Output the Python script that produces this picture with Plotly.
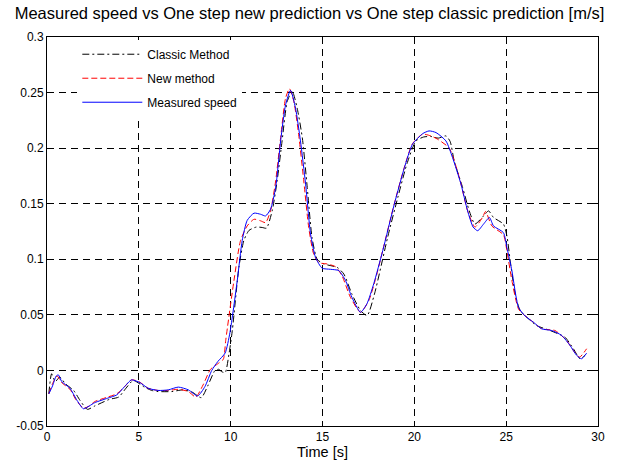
import plotly.graph_objects as go

# ---- data ----
MEAS_T = [0.1, 0.3, 0.5, 0.62, 0.8, 1.25, 1.6, 1.98, 2.3, 2.6, 3.3, 3.8, 4.2, 4.6, 5.06, 5.5,
          6.05, 6.6, 7.15, 7.7, 8.2, 8.6, 8.97, 9.3, 9.7, 9.96, 10.36, 10.63, 10.9, 11.27,
          11.63, 11.9, 12.17, 12.45, 12.72, 12.99, 13.26, 13.53, 13.8, 14.08, 14.35, 14.62,
          14.98, 15.43, 15.89, 16.25, 16.6, 17.07, 17.42, 17.79, 18.28, 18.91, 19.46, 19.9,
          20.45, 20.8, 21.18, 21.72, 22.08, 22.54, 22.9, 23.2, 23.45, 23.77, 24.09, 24.31,
          24.85, 25.04, 25.31, 25.67, 26.03, 26.48, 26.94, 27.48, 28.03, 28.48, 28.84, 29.1,
          29.38]
MEAS_V = [-0.021, -0.014, -0.005, -0.004, -0.010, -0.016, -0.026, -0.0345, -0.032, -0.029,
          -0.025, -0.022, -0.015, -0.0085, -0.011, -0.016, -0.018, -0.0175, -0.015, -0.0175,
          -0.023, -0.0145, 0.0, 0.008, 0.0157, 0.034, 0.081, 0.117, 0.135, 0.1415, 0.1405,
          0.139, 0.145, 0.1646, 0.2065, 0.239, 0.252, 0.236, 0.2065, 0.1676, 0.1227, 0.1017,
          0.092, 0.091, 0.0898, 0.081, 0.0658, 0.0523, 0.060, 0.078, 0.1077, 0.1496, 0.1825,
          0.2035, 0.213, 0.2155, 0.214, 0.2065, 0.1915, 0.1676, 0.1436, 0.129, 0.1257, 0.1317,
          0.1376, 0.130, 0.124, 0.1107, 0.0898, 0.0568, 0.049, 0.0434, 0.0374, 0.0359, 0.0314,
          0.0224, 0.0135, 0.0105, 0.0155]

NEW_T = [0.1, 0.3, 0.55, 0.8, 1.25, 1.6, 2.0, 2.3, 2.6, 3.3, 3.8, 4.2, 4.6, 5.0, 5.5, 6.05,
         6.6, 7.15, 7.7, 8.1, 8.5, 8.9, 9.3, 9.6, 9.73, 10.18, 10.54, 10.9, 11.27, 11.63, 11.9,
         12.17, 12.45, 12.72, 12.99, 13.2, 13.44, 13.7, 13.98, 14.25, 14.52, 14.8, 15.25, 15.7,
         16.06, 16.52, 17.07, 17.52, 17.9, 18.28, 18.91, 19.46, 19.9, 20.45, 20.9, 21.27, 21.9,
         22.45, 22.9, 23.3, 23.71, 23.88, 24.22, 24.85, 25.04, 25.31, 25.67, 26.03, 26.48,
         26.94, 27.66, 28.29, 28.7, 29.0, 29.38]
NEW_V = [-0.021, -0.012, -0.005, -0.011, -0.017, -0.027, -0.034, -0.032, -0.028, -0.024,
         -0.021, -0.015, -0.0085, -0.010, -0.016, -0.018, -0.018, -0.017, -0.019, -0.024,
         -0.013, 0.001, 0.006, 0.010, 0.027, 0.081, 0.117, 0.130, 0.136, 0.1346, 0.133, 0.1436,
         0.1705, 0.2094, 0.245, 0.2535, 0.242, 0.2125, 0.1705, 0.1286, 0.1047, 0.097, 0.0958,
         0.0934, 0.0853, 0.0658, 0.0523, 0.0628, 0.083, 0.108, 0.150, 0.183, 0.204, 0.2125,
         0.211, 0.208, 0.200, 0.1735, 0.1436, 0.129, 0.1376, 0.143, 0.130, 0.122, 0.1077,
         0.081, 0.0554, 0.049, 0.0434, 0.0374, 0.0359, 0.0269, 0.017, 0.012, 0.0195]

CLASSIC_T = [0.1, 0.25, 0.45, 0.7, 1.0, 1.45, 1.8, 2.2, 2.6, 3.4, 3.9, 4.3, 4.7, 5.3, 5.7,
             6.05, 6.8, 7.4, 7.9, 8.4, 8.75, 9.15, 9.35, 9.5, 9.7, 9.91, 10.09, 10.45, 10.72,
             11.0, 11.4, 11.72, 11.95, 12.26, 12.53, 12.8, 13.08, 13.35, 13.62, 13.9, 14.17,
             14.43, 14.71, 15.07, 15.8, 16.16, 16.6, 17.07, 17.43, 17.83, 18.55, 19.1, 19.6,
             20.09, 20.5, 20.9, 21.3, 21.72, 21.95, 22.17, 22.63, 22.99, 23.3, 23.77, 24.04,
             24.31, 24.85, 25.04, 25.22, 25.49, 25.76, 26.12, 26.66, 27.39, 28.2, 28.66, 29.02,
             29.29]
CLASSIC_V = [-0.021, -0.003, -0.010, -0.006, -0.012, -0.018, -0.027, -0.035, -0.032, -0.026,
             -0.024, -0.016, -0.009, -0.015, -0.018, -0.019, -0.019, -0.0175, -0.0195, -0.0245,
             -0.014, 0.0, 0.001, -0.001, -0.002, 0.015, 0.036, 0.093, 0.117, 0.126, 0.129,
             0.1286, 0.128, 0.1436, 0.1705, 0.2065, 0.242, 0.2513, 0.236, 0.2094, 0.1645,
             0.1196, 0.100, 0.0958, 0.0927, 0.0868, 0.0688, 0.0539, 0.0494, 0.0688, 0.120,
             0.1556, 0.186, 0.2065, 0.210, 0.2105, 0.209, 0.211, 0.206, 0.1885, 0.1645, 0.1436,
             0.1317, 0.139, 0.1436, 0.1376, 0.1317, 0.121, 0.0987, 0.0688, 0.0539, 0.0479,
             0.0404, 0.0359, 0.0299, 0.0195, 0.0105, 0.0135]

Y_TICKS = [-0.05, 0, 0.05, 0.1, 0.15, 0.2, 0.25, 0.3]
Y_TICK_TEXT = ["-0.05", "0", "0.05", "0.1", "0.15", "0.2", "0.25", "0.3"]
X_TICKS = [0, 5, 10, 15, 20, 25, 30]

FONT = "Liberation Sans, Arial, sans-serif"

fig = go.Figure()
fig.add_trace(go.Scatter(x=CLASSIC_T, y=CLASSIC_V, mode="lines", name="Classic Method",
                         legendgroup="a",
                         line=dict(color="black", width=1, dash="7px,3px,2px,3px",
                                   shape="spline", smoothing=0.6)))
fig.add_trace(go.Scatter(x=NEW_T, y=NEW_V, mode="lines", name="New method",
                         legendgroup="b",
                         line=dict(color="#ff0000", width=1, dash="6px,3px",
                                   shape="spline", smoothing=0.6)))
fig.add_trace(go.Scatter(x=MEAS_T, y=MEAS_V, mode="lines", name="Measured speed",
                         legendgroup="c",
                         line=dict(color="#0000ff", width=1,
                                   shape="spline", smoothing=0.6)))

axis_common = dict(showline=True, linecolor="black", linewidth=1, mirror="ticks",
                   ticks="inside", ticklen=5, tickcolor="black",
                   showgrid=True, gridcolor="black", gridwidth=1, griddash="7px,5px",
                   zeroline=False, tickfont=dict(family=FONT, size=12, color="black"))

fig.update_layout(
    width=619, height=468,
    margin=dict(l=47, r=21, t=37, b=42),
    paper_bgcolor="white", plot_bgcolor="white",
    title=dict(text="Measured speed vs One step new prediction vs One step classic prediction [m/s]",
               x=0.5, xanchor="center", y=0.972, yanchor="middle",
               font=dict(family=FONT, size=16.5, color="black")),
    xaxis=dict(range=[0, 30], tickvals=X_TICKS,
               title=dict(text="Time [s]", font=dict(family=FONT, size=14.5, color="black"),
                          standoff=2),
               **axis_common),
    yaxis=dict(range=[-0.05, 0.3], tickvals=Y_TICKS, ticktext=Y_TICK_TEXT, **axis_common),
    legend=dict(x=0.055, y=0.993, xanchor="left", yanchor="top",
                bgcolor="white", borderwidth=0, itemwidth=60,
                traceorder="grouped", tracegroupgap=5,
                font=dict(family=FONT, size=12, color="black")),
    showlegend=True,
)

fig.write_html("out.html")
